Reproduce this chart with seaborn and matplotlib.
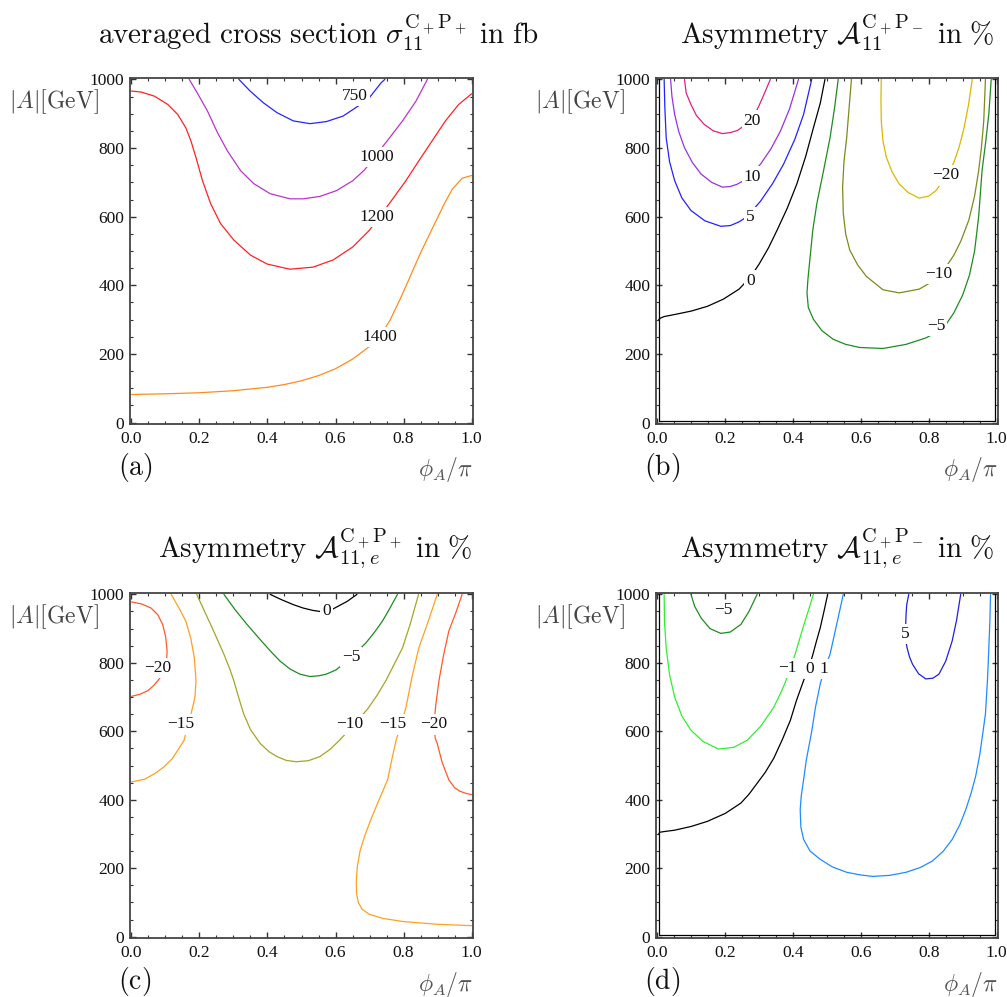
import numpy as np
import pandas as pd
import matplotlib
matplotlib.use("Agg")
import matplotlib.pyplot as plt
import seaborn as sns
from matplotlib.ticker import MultipleLocator, FormatStrFormatter

sns.set_theme(style="ticks")
plt.rcParams['font.family'] = ['Liberation Serif', 'DejaVu Serif']
plt.rcParams['mathtext.fontset'] = 'cm'

M = '\u2212'

# ---------------- Panel (a): averaged cross section ----------------
a_750_x = [0.316, 0.350, 0.389, 0.428, 0.476, 0.525, 0.573, 0.622, 0.651, 0.695, 0.734, 0.745]
a_750_y = [1000, 965, 931, 903, 879, 871, 877, 893, 912, 941, 990, 1000]
a_1000_x = [0.170, 0.194, 0.224, 0.253, 0.282, 0.321, 0.360, 0.408, 0.466, 0.505, 0.554, 0.603, 0.651, 0.685, 0.748, 0.797, 0.836, 0.870]
a_1000_y = [1000, 960, 907, 845, 792, 734, 696, 667, 652, 652, 659, 676, 705, 736, 816, 879, 936, 1000]
a_1200_x = [0.0, 0.029, 0.068, 0.107, 0.136, 0.160, 0.175, 0.190, 0.209, 0.233, 0.262, 0.301, 0.350, 0.399, 0.466, 0.534, 0.593, 0.651, 0.700, 0.758, 0.807, 0.845, 0.884, 0.923, 0.962, 1.0]
a_1200_y = [966, 963, 951, 927, 898, 859, 821, 772, 705, 638, 580, 532, 488, 462, 447, 453, 474, 512, 561, 638, 705, 763, 821, 879, 927, 958]
a_1400_x = [0.0, 0.1, 0.2, 0.3, 0.4, 0.45, 0.5, 0.55, 0.6, 0.65, 0.7, 0.729, 0.76, 0.79, 0.816, 0.85, 0.894, 0.92, 0.943, 0.972, 1.0]
a_1400_y = [82, 84, 87, 93, 103, 111, 122, 137, 157, 185, 222, 250, 298, 360, 418, 495, 585, 638, 680, 712, 720]
a_labels = ['750', '1000', '1200', '1400']
a_label_x = [0.656, 0.721, 0.720, 0.729]
a_label_y = [951, 774, 599, 249]

# ---------------- Panel (b): Asymmetry A11 C+P- ----------------
b_20_x = [0.080, 0.085, 0.099, 0.115, 0.138, 0.165, 0.192, 0.215, 0.236, 0.260, 0.280, 0.299, 0.315, 0.333]
b_20_y = [1000, 960, 927, 895, 869, 850, 842, 845, 851, 868, 885, 922, 958, 1000]
b_10_x = [0.039, 0.043, 0.051, 0.063, 0.080, 0.103, 0.129, 0.160, 0.192, 0.215, 0.234, 0.260, 0.280, 0.304, 0.335, 0.363, 0.390, 0.416]
b_10_y = [1000, 950, 898, 848, 801, 758, 724, 700, 686, 688, 694, 708, 727, 753, 798, 850, 915, 1000]
b_5_x = [0.020, 0.022, 0.026, 0.036, 0.051, 0.072, 0.099, 0.140, 0.187, 0.215, 0.241, 0.260, 0.275, 0.304, 0.340, 0.372, 0.405, 0.431, 0.455]
b_5_y = [1000, 920, 830, 760, 705, 655, 618, 588, 572, 574, 585, 597, 612, 645, 697, 753, 825, 898, 1000]
b_0_x = [0.494, 0.480, 0.460, 0.437, 0.411, 0.383, 0.353, 0.328, 0.300, 0.275, 0.241, 0.195, 0.148, 0.100, 0.051, 0.020, 0.010, 0.004]
b_0_y = [1000, 930, 859, 775, 695, 625, 561, 510, 462, 425, 389, 360, 339, 325, 315, 309, 305, 300]
b_0edge_x = [0.004, 0.004, 0.996, 0.996]
b_0edge_y = [1000, 6, 6, 1000]
b_m5_x = [0.533, 0.522, 0.509, 0.490, 0.470, 0.458, 0.450, 0.444, 0.441, 0.445, 0.460, 0.485, 0.518, 0.555, 0.596, 0.665, 0.733, 0.792, 0.821, 0.850, 0.874, 0.900, 0.920, 0.935, 0.947, 0.957, 0.968, 0.977, 0.984]
b_m5_y = [1000, 915, 830, 735, 638, 560, 480, 420, 378, 335, 301, 268, 243, 228, 219, 216, 228, 247, 262, 285, 320, 372, 430, 500, 600, 734, 820, 900, 1000]
b_m10_x = [0.572, 0.565, 0.558, 0.550, 0.546, 0.548, 0.555, 0.567, 0.590, 0.616, 0.665, 0.713, 0.772, 0.800, 0.830, 0.855, 0.874, 0.895, 0.918, 0.935, 0.947, 0.955, 0.962, 0.967]
b_m10_y = [1000, 915, 830, 760, 686, 610, 550, 503, 460, 426, 387, 378, 389, 405, 430, 460, 488, 530, 590, 660, 734, 800, 879, 1000]
b_m20_x = [0.660, 0.659, 0.660, 0.665, 0.675, 0.692, 0.713, 0.740, 0.772, 0.800, 0.821, 0.850, 0.874, 0.890, 0.904, 0.917, 0.928]
b_m20_y = [1000, 940, 879, 820, 773, 730, 695, 670, 654, 660, 676, 715, 758, 805, 859, 925, 1000]
b_labels = ['20', '10', '5', '0', M + '5', M + '10', M + '20']
b_label_x = [0.280, 0.280, 0.275, 0.275, 0.821, 0.830, 0.850]
b_label_y = [880, 717, 599, 414, 281, 434, 720]

# ---------------- Panel (c): Asymmetry A11,e C+P+ ----------------
c_m20L_x = [0.0, 0.030, 0.058, 0.078, 0.092, 0.101, 0.105, 0.103, 0.095, 0.078, 0.065, 0.049, 0.025, 0.0]
c_m20L_y = [978, 972, 960, 940, 912, 875, 835, 800, 770, 748, 733, 719, 708, 702]
c_m20R_x = [0.972, 0.953, 0.933, 0.917, 0.904, 0.895, 0.889, 0.893, 0.899, 0.913, 0.933, 0.950, 0.965, 0.985, 1.0]
c_m20R_y = [1000, 945, 893, 820, 748, 680, 620, 580, 564, 510, 458, 435, 425, 418, 415]
c_m15L_x = [0.117, 0.140, 0.160, 0.175, 0.185, 0.190, 0.187, 0.180, 0.170, 0.160, 0.155, 0.140, 0.120, 0.097, 0.070, 0.039, 0.0]
c_m15L_y = [1000, 960, 922, 870, 815, 748, 700, 670, 630, 595, 574, 550, 520, 497, 477, 460, 452]
c_m15R_x = [0.899, 0.872, 0.845, 0.825, 0.807, 0.793, 0.778, 0.765, 0.753, 0.728, 0.705, 0.686, 0.672, 0.664, 0.661, 0.662, 0.667, 0.678, 0.700, 0.740, 0.800, 0.900, 1.0]
c_m15R_y = [1000, 920, 844, 760, 670, 620, 574, 515, 458, 400, 345, 295, 250, 205, 160, 125, 100, 80, 65, 53, 44, 36, 32]
c_m10_x = [0.192, 0.213, 0.233, 0.252, 0.272, 0.290, 0.301, 0.315, 0.330, 0.350, 0.379, 0.405, 0.428, 0.455, 0.484, 0.520, 0.554, 0.585, 0.612, 0.641, 0.668, 0.695, 0.722, 0.748, 0.772, 0.797, 0.820, 0.844]
c_m10_y = [1000, 955, 912, 870, 825, 780, 748, 700, 651, 605, 564, 540, 526, 515, 511, 514, 526, 548, 574, 605, 635, 666, 705, 748, 795, 844, 915, 1000]
c_m5_x = [0.272, 0.305, 0.340, 0.375, 0.408, 0.437, 0.466, 0.495, 0.525, 0.550, 0.573, 0.601, 0.625, 0.646, 0.668, 0.690, 0.715, 0.738, 0.760, 0.782]
c_m5_y = [1000, 955, 912, 872, 835, 805, 782, 767, 760, 762, 767, 779, 798, 815, 837, 859, 890, 922, 960, 1000]
c_0_x = [0.408, 0.440, 0.476, 0.505, 0.534, 0.555, 0.573, 0.590, 0.607, 0.635, 0.663]
c_0_y = [1000, 985, 970, 960, 953, 950, 950, 956, 965, 980, 1000]
c_labels = [M + '20', M + '15', M + '10', M + '5', '0', M + '15', M + '20']
c_label_x = [0.078, 0.146, 0.641, 0.646, 0.573, 0.768, 0.889]
c_label_y = [785, 620, 620, 818, 951, 620, 620]

# ---------------- Panel (d): Asymmetry A11,e C+P- ----------------
d_m5_x = [0.099, 0.110, 0.129, 0.155, 0.187, 0.215, 0.246, 0.270, 0.294]
d_m5_y = [1000, 965, 931, 900, 886, 890, 912, 950, 1000]
d_m1_x = [0.020, 0.021, 0.026, 0.036, 0.051, 0.072, 0.099, 0.135, 0.180, 0.225, 0.265, 0.305, 0.343, 0.365, 0.377, 0.390, 0.406, 0.430, 0.460]
d_m1_y = [1000, 920, 844, 765, 700, 645, 603, 570, 548, 553, 574, 615, 670, 715, 743, 780, 825, 905, 1000]
d_0_x = [0.502, 0.491, 0.480, 0.468, 0.458, 0.445, 0.431, 0.410, 0.392, 0.368, 0.343, 0.318, 0.294, 0.270, 0.246, 0.200, 0.148, 0.100, 0.051, 0.020, 0.007, 0.004]
d_0_y = [1000, 950, 902, 860, 823, 780, 748, 690, 632, 575, 521, 480, 448, 416, 390, 360, 337, 322, 311, 307, 305, 300]
d_0edge_x = [0.004, 0.004, 0.996, 0.996]
d_0edge_y = [1000, 6, 6, 1000]
d_1_x = [0.548, 0.528, 0.509, 0.492, 0.480, 0.466, 0.455, 0.439, 0.431, 0.424, 0.421, 0.423, 0.431, 0.450, 0.480, 0.515, 0.558, 0.600, 0.635, 0.685, 0.733, 0.775, 0.811, 0.843, 0.869, 0.892, 0.909, 0.925, 0.938, 0.950, 0.960, 0.967, 0.973, 0.977, 0.980, 0.982]
d_1_y = [1000, 910, 825, 782, 738, 670, 600, 516, 458, 410, 371, 320, 284, 250, 226, 204, 188, 180, 176, 179, 188, 202, 221, 250, 284, 328, 371, 420, 468, 530, 600, 651, 750, 844, 920, 1000]
d_5_x = [0.741, 0.735, 0.733, 0.731, 0.733, 0.736, 0.743, 0.752, 0.770, 0.791, 0.812, 0.830, 0.850, 0.869, 0.882, 0.894]
d_5_y = [1000, 970, 941, 885, 860, 844, 818, 796, 768, 753, 755, 767, 805, 864, 925, 1000]
d_labels = [M + '5', M + '1', '0', '1', '5']
d_label_x = [0.195, 0.382, 0.450, 0.492, 0.731]
d_label_y = [953, 785, 782, 782, 885]

x_ticks = [0.0, 0.2, 0.4, 0.6, 0.8, 1.0]
y_ticks = [0, 200, 400, 600, 800, 1000]

panels = {
    'a': dict(
        lines=[(a_750_x, a_750_y, '#2525ff'), (a_1000_x, a_1000_y, '#bb33cc'),
               (a_1200_x, a_1200_y, '#ff2222'), (a_1400_x, a_1400_y, '#ff8c1a')],
        labels=(a_labels, a_label_x, a_label_y),
        title=r'$\mathrm{averaged\ cross\ section}\ \sigma_{11}^{\mathrm{C}_+\mathrm{P}_+}\ \mathrm{in\ fb}$',
        title_pos=(318, 44, 'center'), tag='(a)'),
    'b': dict(
        lines=[(b_20_x, b_20_y, '#e0207f'), (b_10_x, b_10_y, '#9932dd'), (b_5_x, b_5_y, '#2222ff'),
               (b_0_x, b_0_y, '#000000'), (b_0edge_x, b_0edge_y, '#000000'),
               (b_m5_x, b_m5_y, '#1e8c1e'), (b_m10_x, b_m10_y, '#7f8a1a'), (b_m20_x, b_m20_y, '#d9b800')],
        labels=(b_labels, b_label_x, b_label_y),
        title=r'$\mathrm{Asymmetry}\ \mathcal{A}_{11}^{\mathrm{C}_+\mathrm{P}_-}\ \mathrm{in}\ \%$',
        title_pos=(995, 44, 'right'), tag='(b)'),
    'c': dict(
        lines=[(c_m20L_x, c_m20L_y, '#ff5a28'), (c_m20R_x, c_m20R_y, '#ff5a28'),
               (c_m15L_x, c_m15L_y, '#ffa020'), (c_m15R_x, c_m15R_y, '#ffa020'),
               (c_m10_x, c_m10_y, '#a5a528'), (c_m5_x, c_m5_y, '#1e8c1e'), (c_0_x, c_0_y, '#000000')],
        labels=(c_labels, c_label_x, c_label_y),
        title=r'$\mathrm{Asymmetry}\ \mathcal{A}_{11,e}^{\mathrm{C}_+\mathrm{P}_+}\ \mathrm{in}\ \%$',
        title_pos=(473, 558, 'right'), tag='(c)'),
    'd': dict(
        lines=[(d_m5_x, d_m5_y, '#1e8c1e'), (d_m1_x, d_m1_y, '#33ee33'), (d_0_x, d_0_y, '#000000'),
               (d_0edge_x, d_0edge_y, '#000000'), (d_1_x, d_1_y, '#1e8cff'), (d_5_x, d_5_y, '#2020dd')],
        labels=(d_labels, d_label_x, d_label_y),
        title=r'$\mathrm{Asymmetry}\ \mathcal{A}_{11,e}^{\mathrm{C}_+\mathrm{P}_-}\ \mathrm{in}\ \%$',
        title_pos=(995, 558, 'right'), tag='(d)'),
}

W, H = 1007, 997
fig = plt.figure(figsize=(W / 100, H / 100), dpi=100)
fig.patch.set_facecolor('white')

# axes boxes in pixels: (left, top, right, bottom)
boxes = {'a': (130, 78, 473, 424), 'b': (656, 78, 998, 424),
         'c': (130, 593, 473, 938), 'd': (656, 593, 998, 938)}

for key, p in panels.items():
    l, t, r, b = boxes[key]
    ax = fig.add_axes([l / W, 1 - b / H, (r - l) / W, (b - t) / H])
    ax.set_facecolor('white')
    for xs, ys, col in p['lines']:
        df = pd.DataFrame({'phi': xs, 'A': ys})
        sns.lineplot(data=df, x='phi', y='A', sort=False, estimator=None,
                     color=col, linewidth=0.9, ax=ax, zorder=2)
    labs, lx, ly = p['labels']
    for s, x, y in zip(labs, lx, ly):
        ax.text(x, y, s, ha='center', va='center', fontsize=12.5, color='#111111', zorder=4,
                bbox=dict(boxstyle='square,pad=0.12', fc='white', ec='none'))
    ax.set_xlim(-0.004, 1.004)
    ax.set_ylim(-4, 1004)
    ax.set_xlabel('')
    ax.set_ylabel('')
    ax.set_xticks(x_ticks)
    ax.set_yticks(y_ticks)
    ax.xaxis.set_major_formatter(FormatStrFormatter('%.1f'))
    ax.yaxis.set_major_formatter(FormatStrFormatter('%d'))
    ax.xaxis.set_minor_locator(MultipleLocator(0.05))
    ax.yaxis.set_minor_locator(MultipleLocator(50))
    ax.tick_params(which='both', direction='in', top=True, right=True, colors='#333333',
                   labelcolor='#111111', labelsize=12.5)
    ax.tick_params(axis='x', pad=5)
    ax.tick_params(axis='y', pad=4)
    ax.tick_params(which='major', length=4.5, width=1.0)
    ax.tick_params(which='minor', length=2.5, width=0.8)
    for sp in ax.spines.values():
        sp.set_visible(True)
        sp.set_color('#444444')
        sp.set_linewidth(1.3)
    # title
    tx, ty, ha = p['title_pos']
    fig.text(tx / W, 1 - ty / H, p['title'], ha=ha, va='baseline', fontsize=21, color='#111111')
    # y label
    fig.text((l - 121) / W, 1 - (t + 24) / H, r'$|A|[\mathrm{GeV}]$', ha='left', va='center',
             fontsize=17, color='#444444')
    # x label
    fig.text(r / W, 1 - (b + 46) / H, r'$\phi_A/\pi$', ha='right', va='center',
             fontsize=17, color='#555555')
    # panel tag
    fig.text((l - 12) / W, 1 - (b + 43) / H, r'$\mathrm{' + p['tag'] + '}$', ha='left', va='center',
             fontsize=20, color='#111111')

fig.savefig('out.png', dpi=100, facecolor='white')
